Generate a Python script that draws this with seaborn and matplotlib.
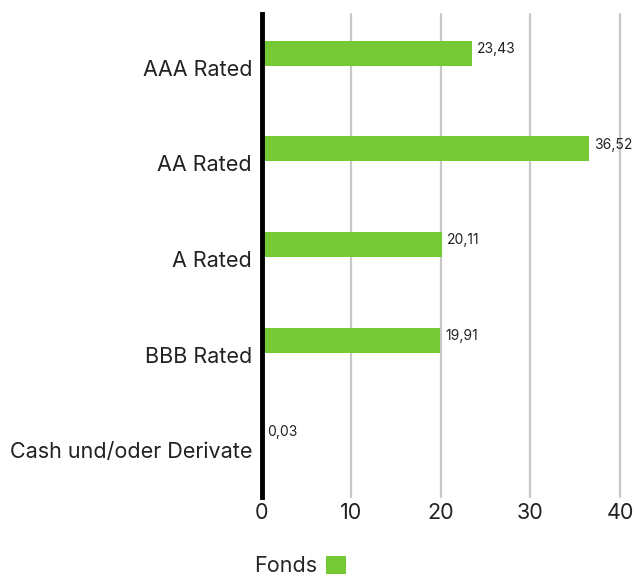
import matplotlib
matplotlib.use("Agg")
import matplotlib.pyplot as plt
import seaborn as sns
import pandas as pd
from matplotlib.patches import Patch

categories = ["AAA Rated", "AA Rated", "A Rated", "BBB Rated", "Cash und/oder Derivate"]
fonds = [23.43, 36.52, 20.11, 19.91, 0.03]
value_labels = ["23,43", "36,52", "20,11", "19,91", "0,03"]
x_ticks = [0, 10, 20, 30, 40]

GREEN = "#74c935"
FONT = ["Inter", "DejaVu Sans"]

sns.set_theme(style="white")
plt.rcParams["font.family"] = FONT

df = pd.DataFrame({"Kategorie": categories, "Wert": fonds, "Serie": "Fonds"})

fig = plt.figure(figsize=(6.34, 5.76), dpi=100)
ax = fig.add_axes([0.413, 0.137, 0.565, 0.839])

# one visible series in the upper half of each category slot
sns.barplot(data=df, x="Wert", y="Kategorie", hue="Serie",
            hue_order=["Fonds", "_leer"], palette={"Fonds": GREEN, "_leer": GREEN},
            orient="h", width=0.6, gap=0.13, dodge=True, legend=False,
            saturation=1, linewidth=0, ax=ax)

for bar, txt in zip([p for p in ax.patches if p.get_width() >= 0], value_labels):
    ax.annotate(txt, xy=(bar.get_width(), bar.get_y()), xytext=(3.5, -1),
                textcoords="offset points", ha="left", va="top",
                fontsize=10, color="#222222")

ax.set_xlim(0, 40)
ax.set_ylim(4.49, -0.5625)
ax.set_xticks(x_ticks)
ax.set_xticklabels([str(t) for t in x_ticks], fontsize=15.5, color="#222222")
ax.tick_params(axis="y", labelsize=15.5, labelcolor="#222222", length=0, pad=7)
ax.tick_params(axis="x", length=0, pad=4)
ax.set_xlabel("")
ax.set_ylabel("")

ax.grid(axis="x", color="#c8c8c8", linewidth=1.6)
for gl in ax.get_xgridlines():
    gl.set_clip_on(False)
ax.grid(axis="y", visible=False)
ax.set_axisbelow(True)
for side in ["top", "right", "bottom"]:
    ax.spines[side].set_visible(False)
ax.spines["left"].set_color("black")
ax.spines["left"].set_linewidth(3.5)
ax.spines["left"].set_zorder(5)

leg = fig.legend(handles=[Patch(facecolor=GREEN, edgecolor="none", label="Fonds")],
                 loc="center", bbox_to_anchor=(0.473, 0.0174), frameon=False,
                 markerfirst=False, fontsize=15.5, handlelength=0.93, handleheight=0.93,
                 handletextpad=0.4)

fig.savefig("out.png", dpi=100)
